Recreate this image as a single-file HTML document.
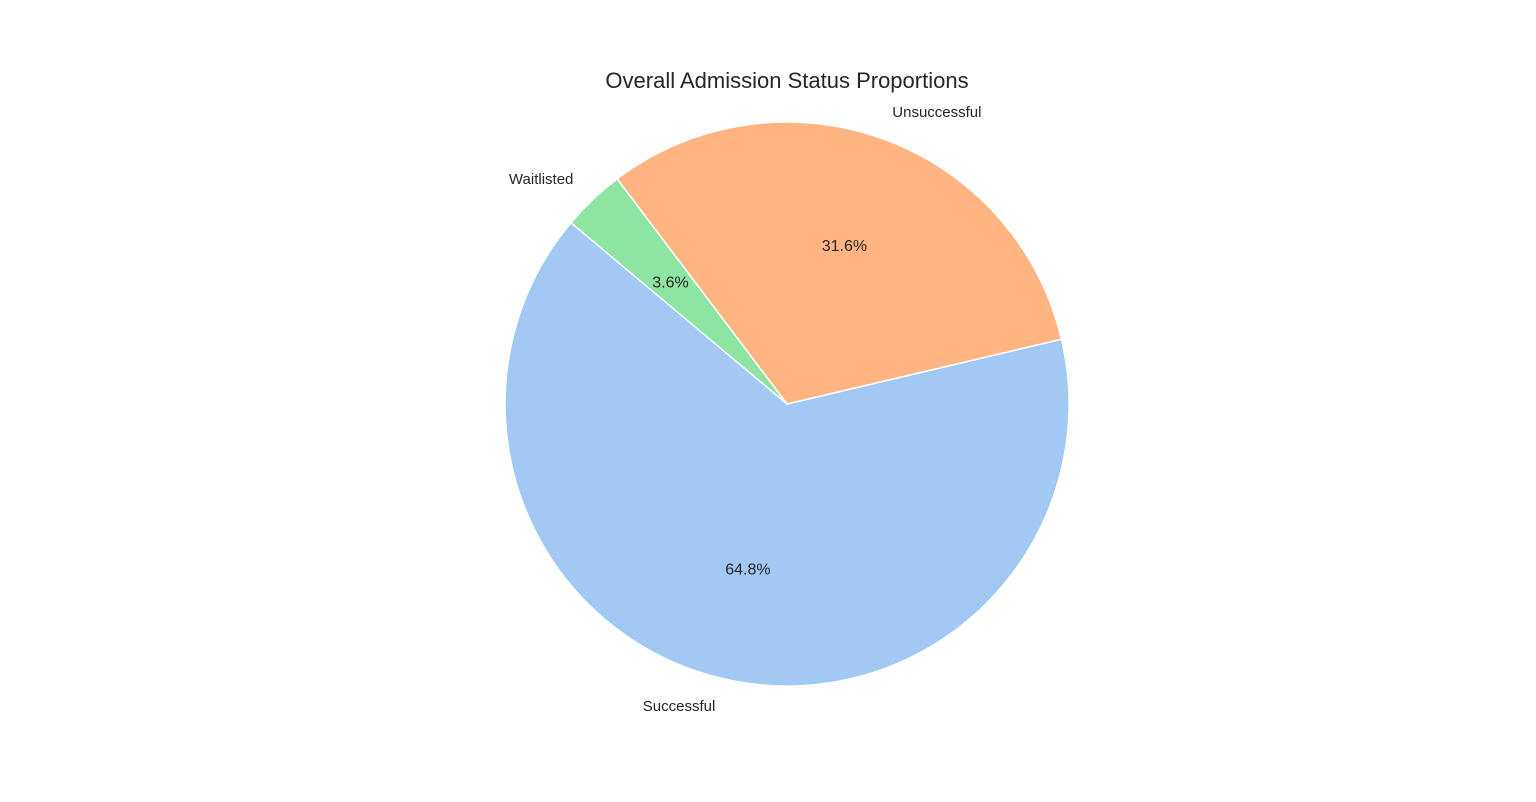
<!DOCTYPE html>
<html><head><meta charset="utf-8"><style>
html,body{margin:0;padding:0;background:#fff;}
svg{display:block;font-family:"Liberation Sans",Arial,sans-serif;}
</style></head><body>
<svg id="chart" width="1536" height="802">
<text x="787" y="88" text-anchor="middle" font-size="22" fill="#262626">Overall Admission Status Proportions</text>
<g id="slices"></g><g id="labels"></g>
</svg>
<script>
const categories = ["Successful", "Unsuccessful", "Waitlisted"];
const values = [64.8, 31.6, 3.6];
const colors = ["#a1c9f4", "#ffb482", "#8de5a1"];
const cx = 787, cy = 404, R = 282, startAngle = 140;
const NS = "http://www.w3.org/2000/svg";
const gS = document.getElementById("slices"), gL = document.getElementById("labels");
const total = values.reduce((a,b)=>a+b,0);
function pt(a, r){ const t=a*Math.PI/180; return [cx + r*Math.cos(t), cy - r*Math.sin(t)]; }
let a0 = startAngle;
values.forEach((v,i)=>{
  const sweep = v/total*360, a1 = a0+sweep;
  const p0 = pt(a0,R), p1 = pt(a1,R);
  const path = document.createElementNS(NS,"path");
  path.setAttribute("d",`M${cx},${cy} L${p0[0]},${p0[1]} A${R},${R} 0 ${sweep>180?1:0} 0 ${p1[0]},${p1[1]} Z`);
  path.setAttribute("fill",colors[i]); path.setAttribute("stroke","#fff"); path.setAttribute("stroke-width","1.5");
  
  
  gS.appendChild(path);
  const mid = (a0+a1)/2;
  const lp = pt(mid, R*1.1);
  const lab = document.createElementNS(NS,"text");
  lab.setAttribute("x",lp[0]); lab.setAttribute("y",lp[1]+5);
  lab.setAttribute("text-anchor", Math.cos(mid*Math.PI/180) >= 0 ? "start" : "end");
  lab.setAttribute("font-size","15"); lab.setAttribute("fill","#262626");
  lab.textContent = categories[i];
  
  
  gL.appendChild(lab);
  const pp = pt(mid, R*0.6);
  const pc = document.createElementNS(NS,"text");
  pc.setAttribute("x",pp[0]); pc.setAttribute("y",pp[1]+6);
  pc.setAttribute("text-anchor","middle"); pc.setAttribute("font-size","16"); pc.setAttribute("fill","#262626");
  pc.textContent = (v/total*100).toFixed(1) + "%";
  
  
  gL.appendChild(pc);
  a0 = a1;
});
</script>
</body></html>
